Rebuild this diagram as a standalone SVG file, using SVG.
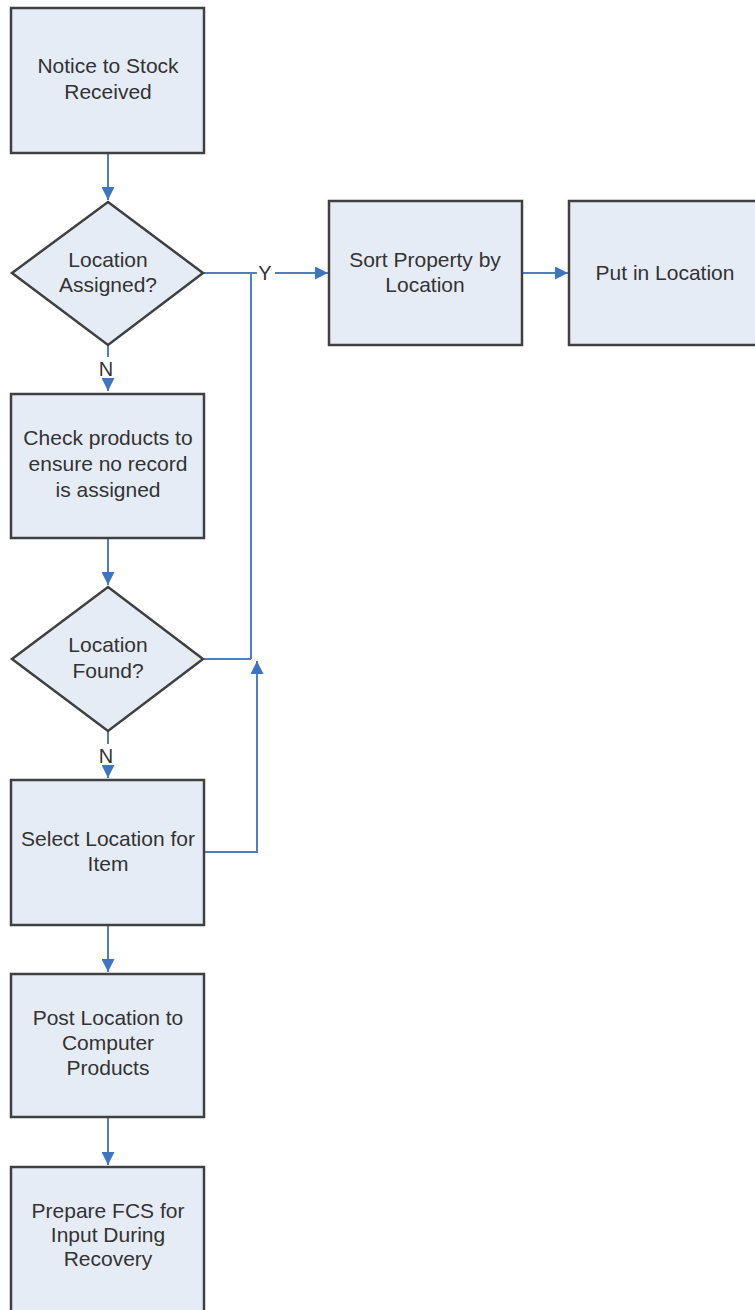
<svg xmlns="http://www.w3.org/2000/svg" width="755" height="1310" viewBox="0 0 755 1310">
  <defs>
    <style>
      .box { fill: #e6ecf6; stroke: #404040; stroke-width: 2.5; }
      .lbl { font-family: "Liberation Sans", Arial, sans-serif; font-size: 21px; fill: #333333; text-anchor: middle; }
      .yn { font-family: "Liberation Sans", Arial, sans-serif; font-size: 20px; fill: #333333; text-anchor: middle; }
      .wire { fill: none; stroke: #4f7fc0; stroke-width: 2; }
    </style>
    <marker id="arrow" markerUnits="userSpaceOnUse" markerWidth="14" markerHeight="13" refX="13" refY="6.5" orient="auto">
      <path d="M0,0 L13,6.5 L0,13 z" fill="#3f74c0"/>
    </marker>
  </defs>
  <rect width="755" height="1310" fill="#ffffff"/>

  <!-- connectors -->
  <g id="connectors">
    <path class="wire" d="M108,153 V200" marker-end="url(#arrow)"/>
    <path class="wire" d="M203,273 H257 M251,273 V659 M203,659 H251"/>
    <path class="wire" d="M275,273 H328" marker-end="url(#arrow)"/>
    <path class="wire" d="M523,273 H568" marker-end="url(#arrow)"/>
    <path class="wire" d="M108,345 V357"/>
    <path class="wire" d="M108,379 V391" marker-end="url(#arrow)"/>
    <path class="wire" d="M108,538 V585" marker-end="url(#arrow)"/>
    <path class="wire" d="M108,731 V744"/>
    <path class="wire" d="M108,765 V778" marker-end="url(#arrow)"/>
    <path class="wire" d="M204,852 H257 V661" marker-end="url(#arrow)"/>
    <path class="wire" d="M108,925 V972" marker-end="url(#arrow)"/>
    <path class="wire" d="M108,1117 V1165" marker-end="url(#arrow)"/>
    <text class="yn" x="265" y="280">Y</text>
    <text class="yn" x="106" y="376">N</text>
    <text class="yn" x="106" y="763">N</text>
  </g>

  <g id="notice">
    <rect class="box" x="11" y="8" width="193" height="145"/>
    <text class="lbl" x="108" y="73">Notice to Stock</text>
    <text class="lbl" x="108" y="99">Received</text>
  </g>

  <g id="location-assigned">
    <polygon class="box" points="108,202 203,273 108,345 12,273"/>
    <text class="lbl" x="108" y="267">Location</text>
    <text class="lbl" x="108" y="292">Assigned?</text>
  </g>

  <g id="sort-property">
    <rect class="box" x="329" y="201" width="193" height="144"/>
    <text class="lbl" x="425" y="267">Sort Property by</text>
    <text class="lbl" x="425" y="292">Location</text>
  </g>

  <g id="put-in-location">
    <rect class="box" x="569" y="201" width="193" height="144"/>
    <text class="lbl" x="665" y="280">Put in Location</text>
  </g>

  <g id="check-products">
    <rect class="box" x="11" y="394" width="193" height="144"/>
    <text class="lbl" x="108" y="445">Check products to</text>
    <text class="lbl" x="108" y="471">ensure no record</text>
    <text class="lbl" x="108" y="497">is assigned</text>
  </g>

  <g id="location-found">
    <polygon class="box" points="108,587 203,659 108,731 12,659"/>
    <text class="lbl" x="108" y="652">Location</text>
    <text class="lbl" x="108" y="678">Found?</text>
  </g>

  <g id="select-location">
    <rect class="box" x="11" y="780" width="193" height="145"/>
    <text class="lbl" x="108" y="846">Select Location for</text>
    <text class="lbl" x="108" y="871">Item</text>
  </g>

  <g id="post-location">
    <rect class="box" x="11" y="974" width="193" height="143"/>
    <text class="lbl" x="108" y="1025">Post Location to</text>
    <text class="lbl" x="108" y="1050">Computer</text>
    <text class="lbl" x="108" y="1075">Products</text>
  </g>

  <g id="prepare-fcs">
    <rect class="box" x="11" y="1167" width="193" height="146"/>
    <text class="lbl" x="108" y="1218">Prepare FCS for</text>
    <text class="lbl" x="108" y="1242">Input During</text>
    <text class="lbl" x="108" y="1266">Recovery</text>
  </g>
</svg>
